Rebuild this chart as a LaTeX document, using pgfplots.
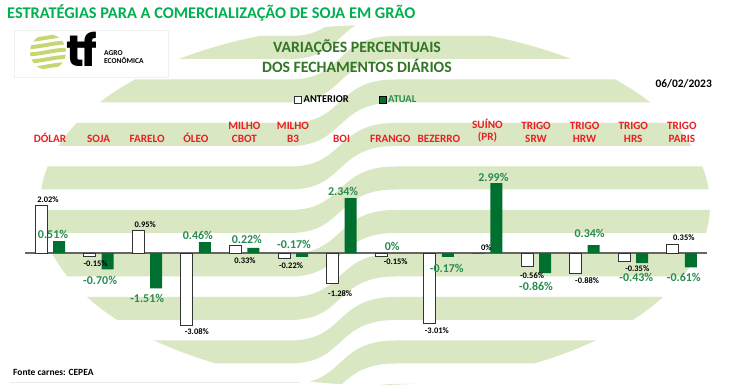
\documentclass[border=0pt]{standalone}
\usepackage{fontspec}
\setmainfont{Carlito}
\newfontfamily\logofont{Poppins}
\usepackage{pgfplots}
\usepackage{pgfplotstable}
\pgfplotsset{compat=1.18}
\definecolor{titlegreen}{RGB}{0,176,80}
\definecolor{subgreen}{RGB}{50,118,38}
\definecolor{catred}{RGB}{235,30,35}
\definecolor{bargreen}{RGB}{0,112,48}
\definecolor{labgreen}{RGB}{40,140,80}
\definecolor{bandgreen}{RGB}{217,231,195}
\definecolor{logogreen}{RGB}{198,214,112}
\def\labdx{0}\def\labdy{0}

\pgfplotstableread{
x y lab dx dy
0 2.02 2.02 -2 6
1 -0.15 -0.15 -3 -7.5
2 0.95 0.95 -2 6
3 -3.08 -3.08 1 -7
4 0.33 0.33 0.6 -15.7
5 -0.22 -0.22 -2 -7
6 -1.28 -1.28 -1.5 -10.5
7 -0.15 -0.15 5.5 -5.5
8 -3.01 -3.01 -2 -7
9 0 0 -1 5
10 -0.56 -0.56 -4 -10
11 -0.88 -0.88 2.5 -7.5
12 -0.35 -0.35 4 -7
13 0.35 0.35 2 7
}\anterior

\pgfplotstableread{
x y lab dx dy
0 0.51 0.51 3 6.5
1 -0.70 -0.70 1.5 -11
2 -1.51 -1.51 0 -10.5
3 0.46 0.46 2 6.5
4 0.22 0.22 2.5 8
5 -0.17 -0.17 1 13
6 2.34 2.34 1.5 7
7 0 0 2 7
8 -0.17 -0.17 8 -11
9 2.99 2.99 6 6
10 -0.86 -0.86 0 -13
11 0.34 0.34 5 12
12 -0.43 -0.43 3 -14
13 -0.61 -0.61 2 -10
}\atual

\begin{document}
\begin{tikzpicture}
\useasboundingbox (0,0) rectangle (730bp,387bp);
\fill[white] (0,0) rectangle (730bp,387bp);
\begin{scope}[x=1bp,y=-1bp,shift={(0,387bp)}]
  % background globe stripes
  \begin{scope}
    \clip (375,205) ellipse [x radius=335, y radius=180];
    \foreach \T in {-7.5,36,79.5,123,166.5,210,253.5,297,340.5,384} {
      \fill[bandgreen] (0,\T+43.5) -- (290,\T+43.5) .. controls (345,\T+43.5) and (335,\T) .. (395,\T) -- (730,\T)
        -- (730,\T+23) -- (395,\T+23) .. controls (335,\T+23) and (345,\T+66.5) .. (290,\T+66.5) -- (0,\T+66.5) -- cycle;
    }
  \end{scope}
  % logo
  \fill[white] (14,30) rectangle (168,77);
  \draw[black!6, line width=0.5bp] (14,30) rectangle (168,77);
  \begin{scope}
    \clip (48,52) circle [radius=18];
    \foreach \k in {-4,...,4} {
      \draw[logogreen, line width=3.9bp] (25,52+\k*7.2+2.5) .. controls (42,52+\k*7.2+2.5) and (52,52+\k*7.2-2.5) .. (72,52+\k*7.2-2.5);
    }
  \end{scope}
  \node[anchor=west, inner sep=0pt, font=\logofont\fontsize{44}{44}\bfseries\selectfont] at (66,49) {t\kern-3bp f};
  \node[anchor=west, inner sep=0pt, align=left, font=\fontsize{7.5}{7.5}\bfseries\selectfont] at (104,57) {AGRO\\ECONÔMICA};
  % titles
  \node[anchor=west, inner sep=0pt, text=titlegreen, font=\fontsize{16.4}{18}\bfseries\selectfont] at (7,13) {ESTRATÉGIAS PARA A COMERCIALIZAÇÃO DE SOJA EM GRÃO};
  \node[align=center, inner sep=0pt, text=subgreen, font=\fontsize{15.8}{20}\bfseries\selectfont] at (357,56) {VARIAÇÕES PERCENTUAIS\\DOS FECHAMENTOS DIÁRIOS};
  \node[anchor=east, inner sep=0pt, font=\fontsize{11.5}{12}\bfseries\selectfont] at (712,84) {06/02/2023};
  \node[anchor=west, inner sep=0pt, font=\fontsize{9.5}{10}\bfseries\selectfont] at (13,372) {Fonte carnes: CEPEA};
  \draw[black!8, line width=0.6bp] (10,382) -- (300,382);
\end{scope}

\begin{axis}[
  at={(25bp,52.1bp)}, anchor=south west,
  scale only axis, width=682bp, height=163.8bp,
  xmin=-0.5144, xmax=13.518, ymin=-3.5, ymax=3.5,
  ybar, bar width=12bp,
  axis line style={draw=none}, tick style={draw=none},
  ytick=\empty,
  xtick={0,...,13},
  xticklabels={DÓLAR, SOJA, FARELO, ÓLEO, {MILHO\\CBOT}, {MILHO\\B3}, BOI, FRANGO, BEZERRO, {SUÍNO\\(PR)}, {TRIGO\\SRW}, {TRIGO\\HRW}, {TRIGO\\HRS}, {TRIGO\\PARIS}},
  xticklabel pos=upper,
  xticklabel shift=24bp,
  xticklabel style={anchor=south, align=center, inner sep=0pt, text=catred, font=\fontsize{11.2}{13}\bfseries\selectfont},
  clip=false,
  legend columns=2,
  legend style={at={(axis description cs:0.394,1.435)}, anchor=west, draw=none, fill=none,
    font=\fontsize{10.5}{11}\bfseries\selectfont, inner sep=0pt,
    /tikz/every even column/.append style={column sep=28bp}},
  legend image code/.code={\draw[#1] (0bp,-3.5bp) rectangle (7bp,3.5bp);},
]
\draw[black!60, line width=1.2bp] (axis cs:-0.5144,0) -- (axis cs:13.518,0);
\addplot[bar shift=-9bp, fill=white, draw=black!80, line width=0.8bp,
  point meta=explicit symbolic,
  visualization depends on={\thisrow{dx} \as \labdx},
  visualization depends on={\thisrow{dy} \as \labdy},
  nodes near coords={\pgfplotspointmeta\%},
  every node near coord/.style={anchor=center, inner sep=0pt, xshift=\labdx*1bp, yshift=\labdy*1bp, text=black, font=\fontsize{8.5}{9}\bfseries\selectfont}]
  table[x=x, y=y, meta=lab] {\anterior};
\addlegendentry{ANTERIOR}
\addplot[bar shift=9bp, fill=bargreen, draw=none,
  point meta=explicit symbolic,
  visualization depends on={\thisrow{dx} \as \labdx},
  visualization depends on={\thisrow{dy} \as \labdy},
  nodes near coords={\pgfplotspointmeta\%},
  every node near coord/.style={anchor=center, inner sep=0pt, xshift=\labdx*1bp, yshift=\labdy*1bp, text=labgreen, font=\fontsize{12}{13}\bfseries\selectfont}]
  table[x=x, y=y, meta=lab] {\atual};
\addlegendentry{\textcolor{labgreen}{ATUAL}}
\end{axis}
\end{tikzpicture}
\end{document}
